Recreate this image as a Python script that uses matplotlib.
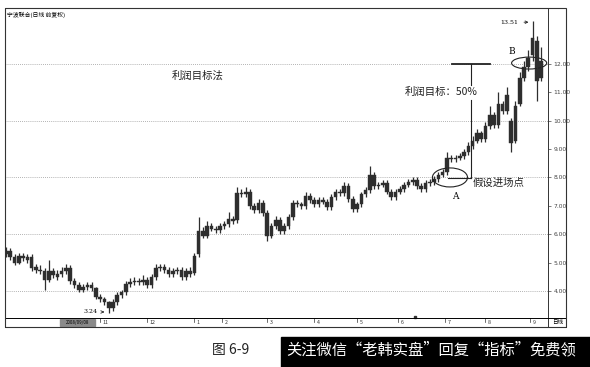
import matplotlib
matplotlib.use("Agg")
import matplotlib.pyplot as plt
from matplotlib.patches import Ellipse, Rectangle

plt.rcParams['font.family'] = ['Noto Sans CJK SC', 'DejaVu Sans']

# 日K线数据 (约两个交易日一根)
opens = [5.30, 5.40, 5.20, 5.00, 5.25, 5.10, 5.20, 4.85, 4.75, 4.70,
         4.40, 4.70, 4.50, 4.60, 4.70, 4.80, 4.35, 4.20, 4.05, 4.15,
         4.20, 4.10, 3.80, 3.70, 3.60, 3.40, 3.60, 3.85, 3.95, 4.25,
         4.30, 4.35, 4.30, 4.40, 4.20, 4.50, 4.80, 4.85, 4.75, 4.60,
         4.70, 4.75, 4.50, 4.70, 4.65, 5.30, 6.10, 5.95, 6.30, 6.20,
         6.15, 6.30, 6.35, 6.55, 6.50, 7.45, 7.40, 7.50, 7.00, 6.85,
         7.10, 6.75, 5.95, 6.30, 6.50, 6.10, 6.30, 6.60, 7.10, 7.05,
         7.00, 7.35, 7.20, 7.05, 7.20, 7.15, 6.95, 7.30, 7.50, 7.45,
         7.70, 7.25, 6.90, 7.05, 7.40, 7.55, 8.10, 7.70, 7.75, 7.80,
         7.50, 7.30, 7.50, 7.60, 7.75, 7.85, 7.90, 7.70, 7.60, 7.80,
         7.85, 7.95, 8.10, 8.20, 8.70, 8.65, 8.70, 8.75, 8.90, 9.10,
         9.30, 9.55, 9.35, 9.80, 10.20, 9.85, 10.60, 10.35, 10.00, 9.30,
         10.60, 11.50, 11.90, 12.30, 12.80, 11.50]
closes = [5.40, 5.20, 5.00, 5.25, 5.15, 5.20, 4.80, 4.75, 4.70, 4.40,
          4.70, 4.55, 4.60, 4.70, 4.80, 4.35, 4.20, 4.05, 4.15, 4.20,
          4.10, 3.80, 3.70, 3.60, 3.40, 3.60, 3.85, 3.95, 4.25, 4.30,
          4.35, 4.30, 4.40, 4.20, 4.50, 4.80, 4.85, 4.75, 4.60, 4.70,
          4.75, 4.50, 4.70, 4.60, 5.25, 6.10, 5.95, 6.30, 6.20, 6.15,
          6.30, 6.35, 6.55, 6.45, 7.45, 7.40, 7.50, 7.00, 6.85, 7.10,
          6.75, 5.95, 6.30, 6.50, 6.10, 6.30, 6.60, 7.10, 7.05, 7.00,
          7.35, 7.20, 7.05, 7.20, 7.15, 6.95, 7.30, 7.50, 7.45, 7.70,
          7.25, 6.90, 7.05, 7.40, 7.55, 8.10, 7.70, 7.75, 7.80, 7.50,
          7.30, 7.50, 7.60, 7.75, 7.85, 7.90, 7.70, 7.60, 7.80, 7.85,
          7.95, 8.10, 8.20, 8.70, 8.65, 8.70, 8.75, 8.90, 9.10, 9.30,
          9.55, 9.35, 9.80, 10.20, 9.85, 10.60, 10.35, 10.90, 9.20, 10.50,
          11.50, 11.90, 12.20, 12.90, 11.40, 12.10]
highs = [5.55, 5.50, 5.30, 5.35, 5.35, 5.30, 5.30, 4.95, 4.90, 4.80,
         5.10, 4.80, 4.75, 4.85, 4.95, 4.90, 4.45, 4.30, 4.25, 4.30,
         4.30, 4.15, 3.90, 3.80, 3.65, 3.70, 3.95, 4.05, 4.35, 4.45,
         4.50, 4.45, 4.55, 4.50, 4.60, 4.95, 4.95, 4.95, 4.85, 4.80,
         4.85, 4.85, 4.80, 4.85, 5.35, 6.60, 6.25, 6.45, 6.40, 6.30,
         6.40, 6.45, 6.80, 6.65, 7.65, 7.60, 7.65, 7.60, 7.10, 7.25,
         7.20, 6.85, 6.40, 6.65, 6.60, 6.40, 6.70, 7.20, 7.20, 7.15,
         7.50, 7.45, 7.30, 7.30, 7.30, 7.25, 7.40, 7.60, 7.60, 7.85,
         7.80, 7.35, 7.15, 7.50, 7.65, 8.40, 8.20, 7.85, 7.90, 7.90,
         7.60, 7.60, 7.70, 7.85, 7.95, 8.00, 8.00, 7.80, 7.90, 7.95,
         8.05, 8.20, 8.30, 8.90, 8.80, 8.80, 8.85, 9.00, 9.25, 9.45,
         9.70, 9.65, 9.95, 10.50, 10.30, 11.00, 10.70, 11.20, 10.10, 10.70,
         11.70, 12.10, 12.50, 13.51, 13.00, 12.60]
lows = [5.20, 5.10, 4.90, 4.95, 5.05, 5.00, 4.70, 4.65, 4.60, 4.05,
        4.30, 4.45, 4.40, 4.50, 4.60, 4.25, 4.10, 3.95, 3.95, 4.05,
        4.00, 3.70, 3.60, 3.50, 3.24, 3.30, 3.50, 3.75, 3.85, 4.15,
        4.20, 4.20, 4.20, 4.10, 4.10, 4.40, 4.70, 4.65, 4.50, 4.50,
        4.60, 4.40, 4.40, 4.50, 4.55, 5.20, 5.85, 5.85, 6.10, 6.05,
        6.05, 6.20, 6.25, 6.35, 6.40, 7.30, 7.30, 6.90, 6.75, 6.75,
        6.65, 5.75, 5.85, 6.20, 6.00, 6.00, 6.20, 6.50, 6.95, 6.90,
        6.90, 7.10, 6.95, 6.95, 7.05, 6.85, 6.85, 7.20, 7.35, 7.35,
        7.15, 6.80, 6.80, 6.95, 7.30, 7.45, 7.60, 7.60, 7.65, 7.40,
        7.20, 7.20, 7.40, 7.50, 7.65, 7.75, 7.60, 7.50, 7.50, 7.70,
        7.75, 7.85, 8.00, 8.10, 8.55, 8.55, 8.60, 8.65, 8.80, 9.00,
        9.20, 9.25, 9.25, 9.70, 9.75, 9.75, 10.25, 10.25, 8.90, 9.20,
        10.50, 11.40, 11.75, 12.10, 10.70, 11.40]

price_ticks = [4, 5, 6, 7, 8, 9, 10, 11, 12]
grid_levels = [4, 6, 8, 10, 12]
month_pos = [22, 33, 44, 50.5, 61, 72, 82, 91.6, 102.6, 112, 122.4]
month_labels = ["11", "12", "1", "2", "3", "4", "5", "6", "7", "8", "9"]

W, H = 590, 367
fig = plt.figure(figsize=(5.9, 3.67), dpi=100)
fig.patch.set_facecolor('white')

def fx(px):
    return px / W

def fy(py):
    return 1 - py / H

# 主图
ax = fig.add_axes([fx(5), fy(318), fx(548 - 5), (318 - 8) / H])
n = len(closes)
xs = list(range(n))
col = '#2e2e2e'
ax.vlines(xs, lows, highs, color=col, lw=0.9)
bottoms = [min(o, c) for o, c in zip(opens, closes)]
heights = [max(abs(c - o), 0.04) for o, c in zip(opens, closes)]
ax.bar(xs, heights, bottom=bottoms, width=0.85, color=col, edgecolor=col, lw=0.3)

ax.set_xlim(-0.23, 126.6)
ax.set_ylim(3.048, 13.97)
for g in grid_levels:
    ax.axhline(g, color='#9a9a9a', lw=0.6, ls=(0, (1, 1.5)), zorder=0)
ax.set_xticks([])
ax.yaxis.tick_right()
ax.set_yticks(price_ticks)
ax.set_yticklabels(["%.2f" % v for v in price_ticks], family='DejaVu Sans')
ax.tick_params(axis='y', labelsize=4.3, length=2, pad=2, colors='#444444', width=0.5)
for s in ax.spines.values():
    s.set_linewidth(0.7)
    s.set_color('#333333')

# 标注
ax.text(0.3, 13.72, "宁波联合(日线 前复权)", fontsize=4.2, va='center')
ax.text(38.8, 11.58, "利润目标法", fontsize=7.5, va='center', color='#222222')
ax.text(93.2, 11.0, "利润目标：50%", fontsize=7.5, va='center', color='#222222')
ax.text(109.1, 7.8, "假设进场点", fontsize=7.5, va='center', color='#222222')
ax.text(104.9, 7.33, "A", fontsize=6.5, va='center', ha='center', family='DejaVu Serif')
ax.text(118.2, 12.42, "B", fontsize=6.5, va='center', ha='center', family='DejaVu Serif')

ax.plot([104.2, 113.1], [12.0, 12.0], color='#222222', lw=1.3)
ax.plot([108.6, 108.6], [12.0, 11.26], color='#222222', lw=0.8)
ax.plot([108.6, 108.6], [10.72, 7.98], color='#222222', lw=0.8)
ax.plot([103.3, 108.6], [7.98, 7.98], color='#222222', lw=0.8)
ax.add_patch(Ellipse((103.7, 8.0), 8.2, 0.67, fill=False, ec='#222222', lw=0.8))
ax.add_patch(Ellipse((122.2, 12.03), 8.2, 0.42, fill=False, ec='#222222', lw=0.8))

ax.annotate("13.51", xy=(122.7, 13.47), xytext=(119.7, 13.47), fontsize=4.5,
            va='center', ha='right', family='DejaVu Serif',
            arrowprops=dict(arrowstyle='->', lw=0.6, color='#222222'))
ax.annotate("3.24", xy=(23.6, 3.26), xytext=(21.3, 3.26), fontsize=4.5,
            va='center', ha='right', family='DejaVu Serif',
            arrowprops=dict(arrowstyle='->', lw=0.6, color='#222222'))

# 底部日期条
sx = fig.add_axes([fx(5), fy(327), fx(566 - 5), 9 / H])
sx.set_xlim(-0.23, 130.84)
sx.set_ylim(0, 1)
sx.set_xticks([])
sx.set_yticks([])
for s in sx.spines.values():
    s.set_linewidth(0.7)
sx.add_patch(Rectangle((12.6, 0.1), 8.2, 0.8, color='#8a8a8a'))
sx.text(16.7, 0.5, "2008/09/08", fontsize=3.2, ha='center', va='center')
for p, lab in zip(month_pos, month_labels):
    sx.plot([p, p], [0.55, 1], color='#333333', lw=0.5)
    sx.text(p + 0.6, 0.45, lab, fontsize=3.8, va='center', color='#333333')
sx.axvline(126.6, color='#333333', lw=0.7)
sx.text(127.5, 0.5, "日线", fontsize=4, va='center')
sx.plot([95.5], [1.15], marker='s', ms=1.5, color='#333333', clip_on=False)

# 外框
fig.patches.append(Rectangle((fx(5), fy(327)), fx(566 - 5), (327 - 8) / H,
                             transform=fig.transFigure, fill=False, lw=0.8, ec='#333333'))

# 图注
fig.text(fx(212), fy(350), "图 6-9", fontsize=10, va='center', color='#222222')
fig.patches.append(Rectangle((fx(281), 0), 1 - fx(281), 30 / H,
                             transform=fig.transFigure, color='black'))
fig.text(fx(286), fy(350), "关注微信“老韩实盘”回复“指标”免费领", fontsize=11,
         va='center', color='white')

fig.savefig("out.png", dpi=100)
